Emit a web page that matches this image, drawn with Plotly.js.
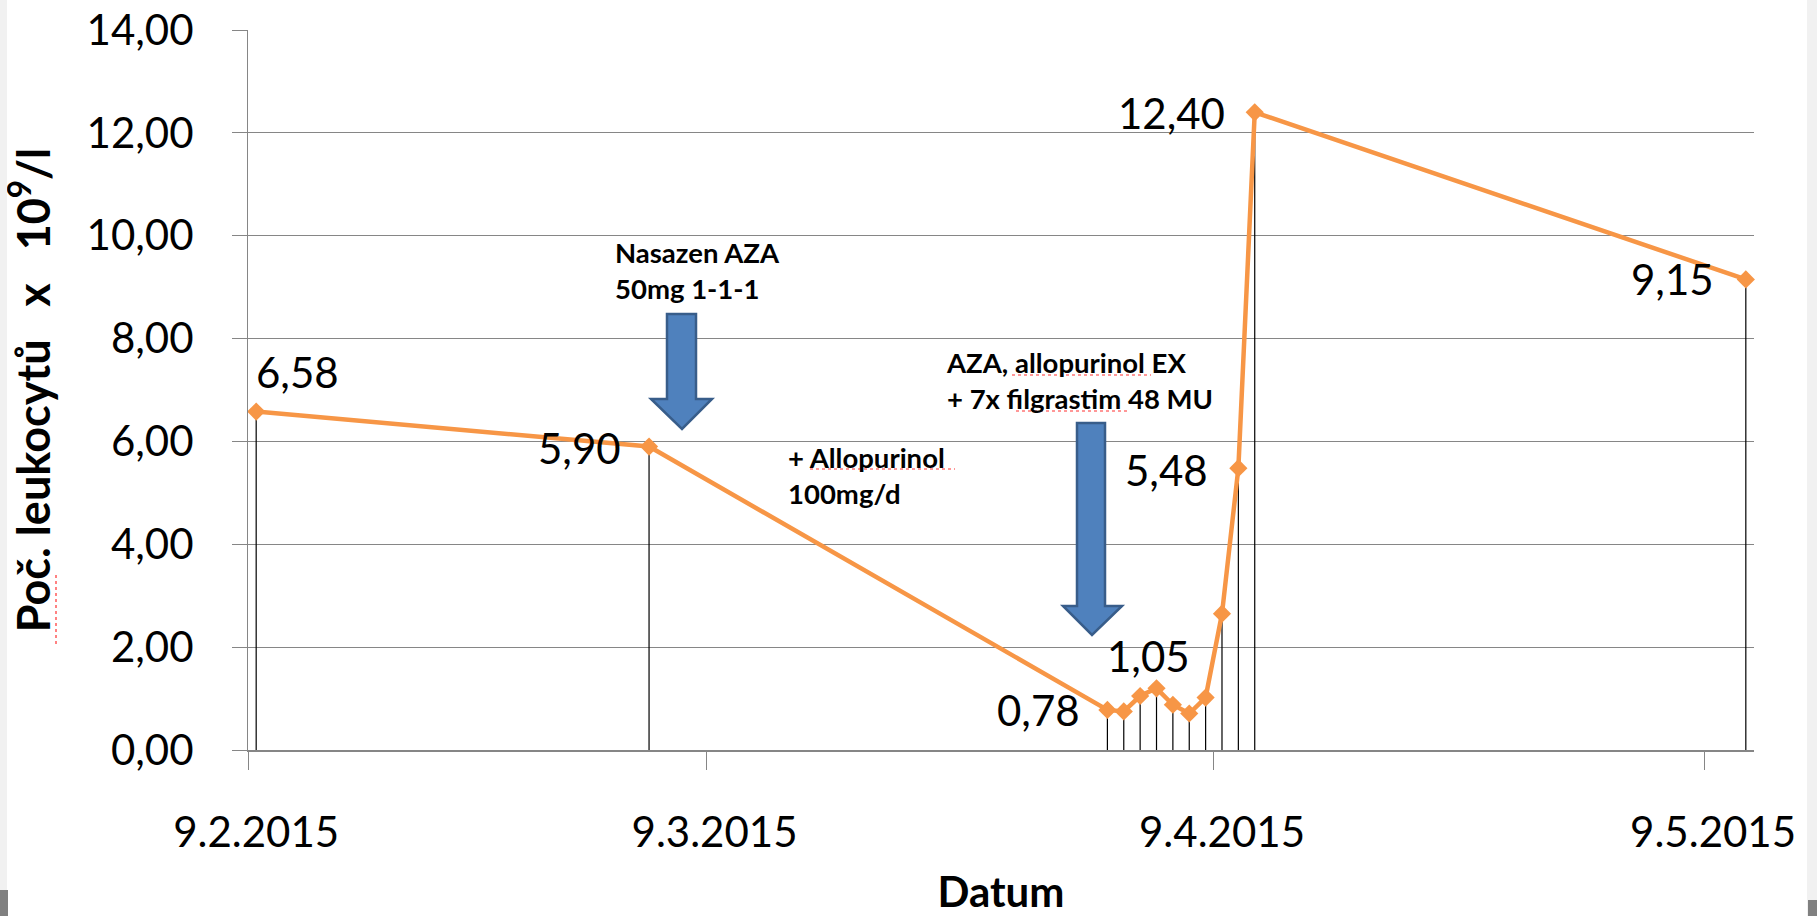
<!DOCTYPE html>
<html>
<head>
<meta charset="utf-8">
<script src="https://cdn.plot.ly/plotly-3.0.1.min.js"></script>
<style>
  html, body { margin: 0; padding: 0; background: #ffffff; }
  #chart { position: absolute; left: 0; top: 0; width: 1817px; height: 916px; }
  .strip { position: absolute; pointer-events: none; z-index: 5; }
</style>
</head>
<body>
<div id="chart"></div>
<div class="strip" style="left:0;top:0;width:7px;height:916px;background:#f1f1f1;"></div>
<div class="strip" style="left:1807px;top:0;width:10px;height:916px;background:#f1f1f1;"></div>
<div class="strip" style="left:0;top:890px;width:8px;height:26px;background:#808080;"></div>
<div class="strip" style="left:1808px;top:900px;width:9px;height:16px;background:#808080;"></div>
<script>
// ---- data ----
const dates = ['2015-02-09','2015-03-05','2015-04-02','2015-04-03','2015-04-04','2015-04-05',
               '2015-04-06','2015-04-07','2015-04-08','2015-04-09','2015-04-10','2015-04-11','2015-05-11'];
const wbc = [6.58, 5.90, 0.78, 0.75, 1.05, 1.20, 0.88, 0.71, 1.02, 2.65, 5.48, 12.40, 9.15];

const tickDates = ['2015-02-09','2015-03-09','2015-04-09','2015-05-09'];
const tickLabels = ['9.2.2015','9.3.2015','9.4.2015','9.5.2015'];

// indices of points that carry a value label
const labelIdx = [0, 1, 2, 4, 10, 11, 12];

const notes = ['Nasazen AZA<br>50mg 1-1-1', '+ Allopurinol<br>100mg/d', 'AZA, allopurinol EX<br>+ 7x filgrastim 48 MU'];

// ---- presentation ----
// Excel date axis with "between tick marks": each day's point sits at mid-day
const mid = d => d + ' 12:00';
const fmt = v => v.toFixed(2).replace('.', ',');

const labelStyle = {
  0:  {xanchor:'left',   yanchor:'middle', xshift:-2,  yshift:40},
  1:  {xanchor:'right',  yanchor:'middle', xshift:-26, yshift:-1},
  2:  {xanchor:'right',  yanchor:'middle', xshift:-25, yshift:0},
  4:  {xanchor:'center', yanchor:'middle', xshift:8,   yshift:40},
  10: {xanchor:'right',  yanchor:'middle', xshift:-28, yshift:-2},
  11: {xanchor:'right',  yanchor:'middle', xshift:-28, yshift:-1},
  12: {xanchor:'right',  yanchor:'middle', xshift:-30, yshift:0}
};

const L = 248, R = 1754, T = 30, B = 750;
const px = x => (x - L) / (R - L);
const py = y => (B - y) / (B - T);
const path = pts => 'M' + pts.map(p => px(p[0]).toFixed(5) + ',' + py(p[1]).toFixed(5)).join(' L') + ' Z';

const FONT = 'Lato, "Open Sans", sans-serif';
const GRID = '#868686';

const trace = {
  type: 'scatter',
  x: dates.map(mid),
  y: wbc,
  mode: 'lines+markers',
  line: {color: '#F79646', width: 4.5},
  marker: {symbol: 'diamond', size: 14, color: '#F79646'},
  error_y: {type: 'data', symmetric: false, array: wbc.map(() => 0), arrayminus: wbc,
            color: '#000000', thickness: 1.2, width: 0},
  cliponaxis: false,
  hoverinfo: 'x+y',
  showlegend: false
};

const annotations = labelIdx.map(i => Object.assign({
  x: mid(dates[i]), y: wbc[i], xref: 'x', yref: 'y',
  text: fmt(wbc[i]), showarrow: false,
  font: {family: FONT, size: 42, color: '#000000'}
}, labelStyle[i]));

const noteStyle = [
  {x: 613, y: 270},
  {x: 786, y: 475},
  {x: 944, y: 380}
];
notes.forEach((t, k) => {
  annotations.push({
    xref: 'paper', yref: 'paper', x: px(noteStyle[k].x), y: py(noteStyle[k].y),
    xanchor: 'left', yanchor: 'middle', align: 'left', showarrow: false,
    text: t, font: {family: FONT, size: 27.5, color: '#000000', weight: 'bold'}
  });
});

const arrowFill = '#4F81BD', arrowLine = '#385D8A';
const shapes = [
  {type: 'path', xref: 'paper', yref: 'paper',
   path: path([[667,314],[696,314],[696,399],[712,399],[682,429],[651,399],[667,399]]),
   fillcolor: arrowFill, line: {color: arrowLine, width: 2.5}},
  {type: 'path', xref: 'paper', yref: 'paper',
   path: path([[1077,423],[1105,423],[1105,606],[1122,606],[1092,635],[1063,606],[1077,606]]),
   fillcolor: arrowFill, line: {color: arrowLine, width: 2.5}}
];
// spell-check style underlines seen in the source
const redLines = [[810,469,955,469],[1012,375,1151,375],[1016,411,1127,411],[56,575,56,645]];
redLines.forEach(s => shapes.push({type: 'line', xref: 'paper', yref: 'paper',
  x0: px(s[0]), y0: py(s[1]), x1: px(s[2]), y1: py(s[3]),
  line: {color: '#ff3030', width: 1.2, dash: 'dot'}}));

const NB = '\u00a0';
const yTitle = 'Poč. leukocytů' + NB + NB + ' x' + NB + NB + ' 10<sup>9</sup>/l' + NB.repeat(12);

const layout = {
  width: 1817, height: 916,
  margin: {l: L, r: 1817 - R, t: T, b: 916 - B},
  paper_bgcolor: '#ffffff', plot_bgcolor: '#ffffff',
  separators: ', ',
  font: {family: FONT, color: '#000000'},
  showlegend: false,
  xaxis: {
    type: 'date',
    range: ['2015-02-09', '2015-05-12'],
    tickmode: 'array',
    tickvals: tickDates.map(mid),
    ticktext: tickLabels,
    ticks: '',
    ticklabelstandoff: 45,
    tickfont: {family: FONT, size: 42, color: '#000000'},
    minor: {tickmode: 'array', tickvals: tickDates, ticks: 'outside', ticklen: 18,
            tickcolor: GRID, tickwidth: 1, showgrid: false},
    showgrid: false, zeroline: false,
    showline: true, linecolor: GRID, linewidth: 2,
    title: {text: 'Datum', standoff: 41,
            font: {family: FONT, size: 42, color: '#000000', weight: 'bold'}},
    fixedrange: true
  },
  yaxis: {
    range: [0, 14], tick0: 0, dtick: 2, tickformat: '.2f',
    ticks: 'outside', ticklen: 15, tickcolor: GRID, tickwidth: 1,
    ticklabelstandoff: 30,
    tickfont: {family: FONT, size: 42, color: '#000000'},
    showgrid: true, gridcolor: GRID, gridwidth: 1,
    showline: true, linecolor: GRID, linewidth: 1,
    zeroline: false,
    title: {text: yTitle, standoff: 28,
            font: {family: FONT, size: 45, color: '#000000', weight: 'bold'}},
    fixedrange: true
  },
  annotations: annotations,
  shapes: shapes
};

Plotly.newPlot('chart', [trace], layout, {displayModeBar: false, staticPlot: true});
</script>
</body>
</html>
